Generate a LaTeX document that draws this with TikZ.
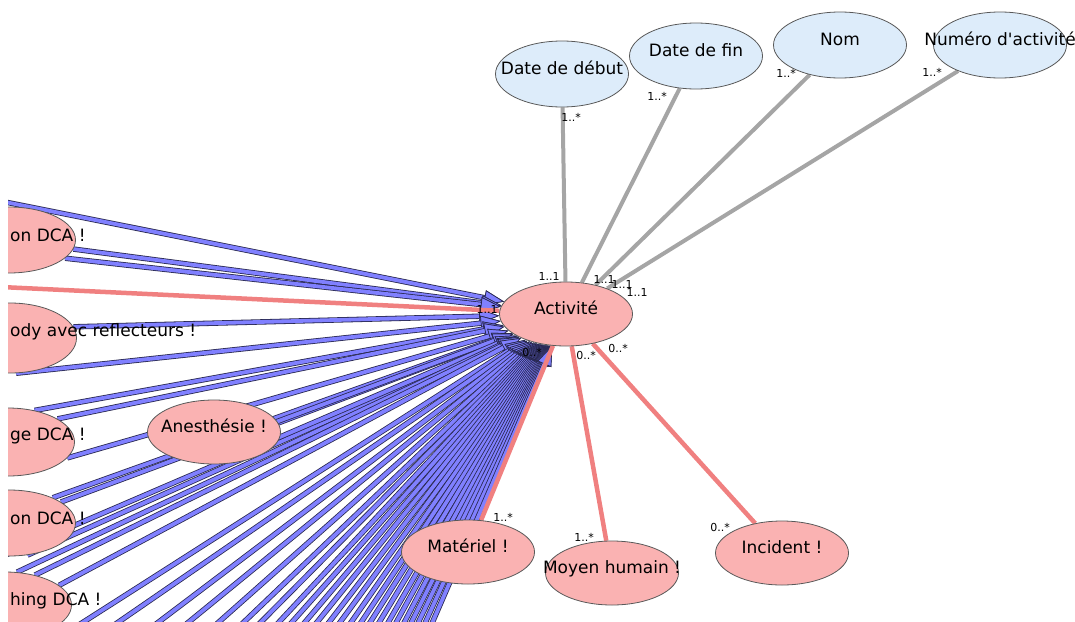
\documentclass[tikz,border=0pt]{standalone}
\usepackage{fontspec}
\setmainfont{DejaVu Sans}
\usetikzlibrary{shapes.geometric,arrows.meta,calc,backgrounds}
\definecolor{entfill}{RGB}{250,178,178}
\definecolor{attrfill}{RGB}{221,236,250}
\definecolor{redline}{RGB}{240,128,128}
\definecolor{grayline}{RGB}{165,165,165}
\definecolor{bluefill}{RGB}{128,128,255}
\definecolor{blueline}{RGB}{40,40,80}
\newcommand\ctext[1]{\makebox[0pt]{#1}}
\begin{document}
\begin{tikzpicture}[x=1pt,y=-1pt,
  ent/.style={ellipse, draw=black!65, line width=0.8pt, fill=entfill,
    minimum width=133pt, minimum height=64pt, inner sep=0pt,
    font=\fontsize{17}{20}\selectfont, text height=12pt, text depth=12pt},
  attr/.style={ent, fill=attrfill, minimum height=66pt},
  lefttext/.style={anchor=west, inner sep=0pt, font=\fontsize{17}{20}\selectfont},
  lab/.style={inner sep=0pt, font=\fontsize{11}{12}\selectfont},
  grayedge/.style={draw=grayline, line width=4pt},
  rededge/.style={draw=redline, line width=4.5pt},
  blueedge/.style={draw=bluefill, line width=3.8pt,
    preaction={draw=blueline, line width=5.4pt},
    -{Triangle[length=20pt,width=15pt,fill=bluefill,color=blueline,line width=0.7pt]}}
]
\useasboundingbox (0,0) rectangle (1075,621);

% nodes
\node[ent] (act) at (566,314) {\ctext{Activité}};
\node[attr] (dd) at (562,74) {\ctext{Date de début}};
\node[attr] (df) at (696,56) {\ctext{Date de fin}};
\node[attr] (nom) at (840,45) {\ctext{Nom}};
\node[attr] (num) at (1000,45) {\ctext{Numéro d\textquotesingle activité}};
\node[ent] (mat) at (468,552) {\ctext{Matériel !}};
\node[ent] (moy) at (612,573) {\ctext{Moyen humain !}};
\node[ent] (inc) at (782,553) {\ctext{Incident !}};
\node[ent] (an) at (214,432) {\ctext{Anesthésie !}};
\node[ent, minimum height=66pt] (n1) at (9,240) {};
\node[ent, minimum height=70pt] (n2) at (10,338) {};
\node[ent, minimum height=68pt] (n3) at (8,442) {};
\node[ent, minimum height=66pt] (n4) at (9,523) {};
\node[ent, minimum height=66pt] (n5) at (5,605) {};
\node[lefttext] (t1) at (10,235) {on DCA !};
\node[lefttext] (t2) at (10,332) {ody avec reflecteurs !};
\node[lefttext] (t3) at (10,436) {ge DCA !};
\node[lefttext] (t4) at (10,518) {on DCA !};
\node[lefttext] (t5) at (10,601) {hing DCA !};

% edges
\begin{scope}[on background layer]
\draw[grayedge] (dd) -- (act);
\draw[grayedge] (df) -- (act);
\draw[grayedge] (nom) -- (act);
\draw[grayedge] (num) -- (act);

\coordinate (s1) at (-20,197);
\coordinate (s2) at (-20,566);
\draw[blueedge] (s1) -- (act);
\draw[blueedge] (n1.-8) -- (act);
\draw[blueedge] (n1.-18) -- (act);
\draw[blueedge] (n2.10) -- (act);
\draw[blueedge] (n2.-80) -- (act);
\draw[blueedge] (n3.50) -- (act);
\draw[blueedge] (n3.25) -- (act);
\draw[blueedge] (n3.-15) -- (act);
\draw[blueedge] (an.8) -- (act);
\draw[blueedge] (n4.30) -- (act);
\draw[blueedge] (n4.22) -- (act);
\draw[blueedge] (n4.-60) -- (act);
\draw[blueedge] (s2) -- (act);
\draw[blueedge] (n5.70) -- (act);
\draw[blueedge] (n5.45) -- (act);
\draw[blueedge] (n5.20) -- (act);
\foreach \x [count=\i] in {85,120,160,190,220,245,262,280,293,306,318,330,341,352,362,371,380,389,397,405,412,419,426,433}{
  \coordinate (b\i) at ($(act.center)!1.12!(\x,621)$);
  \draw[blueedge] (b\i) -- (act);
}

\coordinate (r0) at (-20,286);
\draw[rededge] (r0) -- (act);
\draw[rededge] (act) -- (mat);
\draw[rededge] (act) -- (moy);
\draw[rededge] (act) -- (inc);
\end{scope}

% labels
\node[lab] (l1) at (571,117) {1..*};
\node[lab] (l2) at (549,276) {1..1};
\node[lab] (l3) at (657,96) {1..*};
\node[lab] (l4) at (604,279) {1..1};
\node[lab] (l5) at (786,73) {1..*};
\node[lab] (l6) at (622,284) {1..1};
\node[lab] (l7) at (932,72) {1..*};
\node[lab] (l8) at (637,292) {1..1};
\node[lab] (l9) at (487,309) {1..1};
\node[lab] (l10) at (532,352) {0..*};
\node[lab] (l11) at (586,355) {0..*};
\node[lab] (l12) at (618,348) {0..*};
\node[lab] (l13) at (503,517) {1..*};
\node[lab] (l14) at (584,537) {1..*};
\node[lab] (l15) at (720,527) {0..*};

\fill[white] (0,-5) rectangle (8,630);
\end{tikzpicture}
\end{document}
